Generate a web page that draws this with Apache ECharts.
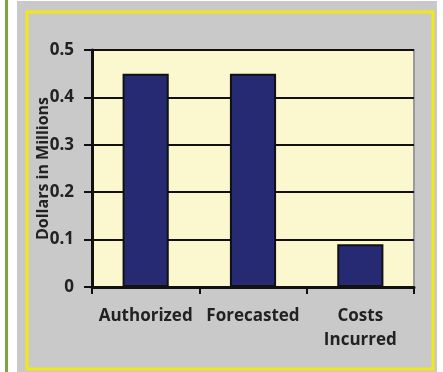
<!DOCTYPE html>
<html>

<head>
    <meta charset="utf-8" />
    <title>chart</title>
    <script src="https://cdn.jsdelivr.net/npm/echarts@6/dist/echarts.min.js"></script>
    <style>
        body { margin: 0; background: #ffffff; }
    </style>
</head>

<body>
    <div id="main" style="width: 443px;height: 372px;"></div>
    <script type="text/javascript">
        var categories = ['Authorized', 'Forecasted', 'Costs\nIncurred']
        var values = [0.45, 0.45, 0.09]
        var yTicks = [0, 0.1, 0.2, 0.3, 0.4, 0.5]

        var myChart = echarts.init(document.getElementById('main'))
        var font = 'Open Sans'

        option = {
            backgroundColor: '#ffffff',
            animation: false,
            graphic: [
                // green stripe on the left
                { type: 'rect', shape: { x: 5, y: 0, width: 3, height: 372 }, style: { fill: '#7fa33f' }, z: -10 },
                // gray panel
                { type: 'rect', shape: { x: 17, y: 1, width: 420, height: 371 }, style: { fill: '#c9c9c9' }, z: -10 },
                // yellow frame
                { type: 'rect', shape: { x: 27, y: 12, width: 406, height: 357 }, style: { fill: 'none', stroke: '#f3e816', lineWidth: 3 }, z: -9 }
            ],
            grid: {
                left: 92,
                right: 29,
                top: 50,
                bottom: 85,
                show: true,
                backgroundColor: '#fbf7cf',
                borderColor: '#9b9b9b',
                borderWidth: 2
            },
            xAxis: {
                type: 'category',
                data: categories,
                axisLine: { lineStyle: { color: '#111', width: 3 } },
                axisTick: { show: true, length: 7, lineStyle: { color: '#111', width: 2 } },
                axisLabel: {
                    interval: 0,
                    margin: 17,
                    color: '#222',
                    fontFamily: font,
                    fontWeight: 'bold',
                    fontSize: 17,
                    lineHeight: 24
                }
            },
            yAxis: {
                type: 'value',
                min: 0,
                max: 0.5,
                interval: 0.1,
                name: 'Dollars in Millions',
                nameLocation: 'middle',
                nameRotate: 90,
                nameGap: 41,
                nameMoveOverlap: false,
                nameTextStyle: { color: '#222', fontFamily: font, fontWeight: 'bold', fontSize: 16 },
                axisLine: { show: true, lineStyle: { color: '#111', width: 3 } },
                axisTick: { show: true, length: 8, lineStyle: { color: '#111', width: 2 } },
                splitLine: { lineStyle: { color: '#111', width: 2 } },
                axisLabel: {
                    margin: 18,
                    color: '#222',
                    fontFamily: font,
                    fontWeight: 'bold',
                    fontSize: 17,
                    formatter: function (v) {
                        for (var i = 0; i < yTicks.length; i++) {
                            if (Math.abs(v - yTicks[i]) < 1e-9) return String(yTicks[i])
                        }
                        return ''
                    }
                }
            },
            series: [
                {
                    type: 'bar',
                    data: values,
                    barWidth: '43%',
                    itemStyle: { color: '#262a72', borderColor: '#111', borderWidth: 2 }
                }
            ]
        }
        myChart.setOption(option)
    </script>
</body>

</html>
